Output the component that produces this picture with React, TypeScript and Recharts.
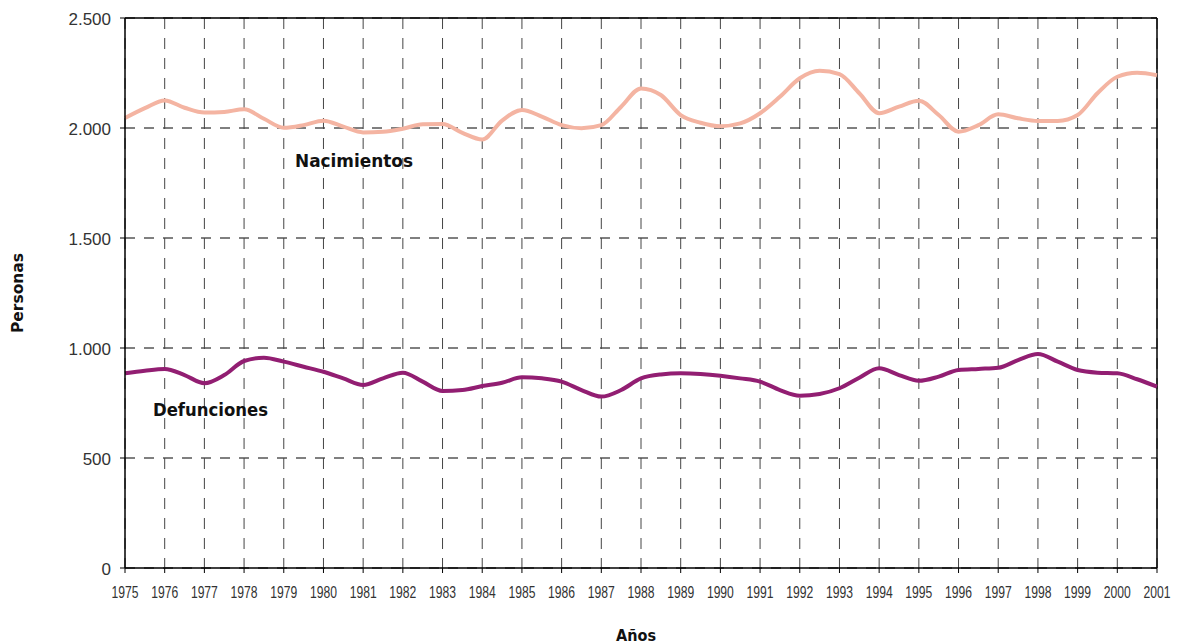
import React from 'react';
import { LineChart, Line, XAxis, YAxis, CartesianGrid, ReferenceLine } from 'recharts';

// half-year sample points
const periods = [
  1975, 1975.5, 1976, 1976.5, 1977, 1977.5, 1978, 1978.5, 1979, 1979.5,
  1980, 1980.5, 1981, 1981.5, 1982, 1982.5, 1983, 1983.5, 1984, 1984.5,
  1985, 1985.5, 1986, 1986.5, 1987, 1987.5, 1988, 1988.5, 1989, 1989.5,
  1990, 1990.5, 1991, 1991.5, 1992, 1992.5, 1993, 1993.5, 1994, 1994.5,
  1995, 1995.5, 1996, 1996.5, 1997, 1997.5, 1998, 1998.5, 1999, 1999.5,
  2000, 2000.5, 2001,
];

const nacimientos = [
  2045, 2090, 2125, 2092, 2070, 2073, 2085, 2042, 2001, 2013,
  2033, 2006, 1980, 1983, 1997, 2017, 2018, 1978, 1948, 2034,
  2082, 2052, 2013, 1999, 2013, 2097, 2180, 2150, 2059, 2024,
  2008, 2021, 2067, 2142, 2226, 2260, 2245, 2158, 2067, 2097,
  2124, 2059, 1983, 2013, 2062, 2044, 2032, 2032, 2059, 2158,
  2233, 2251, 2240,
];

const defunciones = [
  885, 897, 905, 877, 840, 877, 941, 956, 938, 915,
  892, 862, 832, 862, 888, 847, 805, 809, 827, 842,
  867, 862, 847, 809, 779, 809, 862, 880, 885, 882,
  874, 862, 847, 809, 783, 791, 817, 865, 908, 877,
  851, 870, 900, 905, 910, 945, 973, 938, 900, 888,
  885, 858, 824,
];

const yearTicks = [
  1975, 1976, 1977, 1978, 1979, 1980, 1981, 1982, 1983, 1984, 1985, 1986, 1987, 1988,
  1989, 1990, 1991, 1992, 1993, 1994, 1995, 1996, 1997, 1998, 1999, 2000, 2001,
];
const personasTicks = [0, 500, 1000, 1500, 2000, 2500];

const data = periods.map((year, i) => ({
  year,
  nacimientos: nacimientos[i],
  defunciones: defunciones[i],
}));

const tickFont = "'Liberation Sans', Arial, sans-serif";
const labelFont = "'DejaVu Sans', Verdana, sans-serif";

const fmt = (v: number) => String(v).replace(/\B(?=(\d{3})+(?!\d))/g, '.');

function YearTick(props: any) {
  const { x, y, payload } = props;
  return (
    <text
      x={x}
      y={y}
      dy={23}
      textAnchor="middle"
      fontSize={17}
      fontFamily={tickFont}
      fill="#333"
      textLength={27}
      lengthAdjust="spacingAndGlyphs"
    >
      {payload.value}
    </text>
  );
}

function ValueTick(props: any) {
  const { x, y, payload } = props;
  return (
    <text x={x} y={y} dy={7} textAnchor="end" fontSize={17} fontFamily={tickFont} fill="#333">
      {fmt(payload.value)}
    </text>
  );
}

export default function App() {
  return (
    <div style={{ position: 'relative', width: 1174, height: 636, background: '#fff' }}>
      <LineChart
        width={1174}
        height={636}
        data={data}
        margin={{ top: 10, right: 25, bottom: 0, left: 0 }}
      >
        <CartesianGrid vertical={false} stroke="#000" strokeDasharray="10 9" />
        <CartesianGrid horizontal={false} stroke="#444" strokeDasharray="11 9" />
        <XAxis
          dataKey="year"
          type="number"
          domain={[1975, 2001]}
          ticks={yearTicks}
          interval={0}
          height={76}
          tickSize={5}
          tickMargin={2}
          axisLine={{ stroke: '#000', strokeWidth: 1.5 }}
          tickLine={{ stroke: '#000' }}
          tick={(p: any) => <YearTick {...p} />}
        />
        <YAxis
          type="number"
          domain={[0, 2500]}
          ticks={personasTicks}
          interval={0}
          width={117}
          tickSize={5}
          tickMargin={9}
          axisLine={{ stroke: '#000', strokeWidth: 1.5 }}
          tickLine={{ stroke: '#000' }}
          tick={(p: any) => <ValueTick {...p} />}
        />
        <ReferenceLine y={2500} stroke="#000" strokeWidth={1.5} />
        <ReferenceLine x={2001} stroke="#000" strokeWidth={1.5} />
        <Line
          type="monotone"
          dataKey="nacimientos"
          stroke="#F4B4A2"
          strokeWidth={4}
          dot={false}
          isAnimationActive={false}
        />
        <Line
          type="monotone"
          dataKey="defunciones"
          stroke="#921E72"
          strokeWidth={4}
          dot={false}
          isAnimationActive={false}
        />
      </LineChart>
      <svg
        width={1174}
        height={636}
        style={{ position: 'absolute', left: 0, top: 0, pointerEvents: 'none' }}
      >
        <text x={287} y={159} fontSize={17} fontWeight="bold" fontFamily={labelFont} fill="#111"
          textLength={118} lengthAdjust="spacingAndGlyphs">
          Nacimientos
        </text>
        <text x={145} y={408} fontSize={17} fontWeight="bold" fontFamily={labelFont} fill="#111"
          textLength={115} lengthAdjust="spacingAndGlyphs">
          Defunciones
        </text>
        <text x={608} y={633} fontSize={16} fontWeight="bold" fontFamily={labelFont} fill="#111"
          textLength={40} lengthAdjust="spacingAndGlyphs">
          Años
        </text>
        <text x={15} y={285} transform="rotate(-90 15 285)" textAnchor="middle" fontSize={15}
          fontWeight="bold" fontFamily={labelFont} fill="#111" textLength={80}
          lengthAdjust="spacingAndGlyphs">
          Personas
        </text>
      </svg>
    </div>
  );
}
